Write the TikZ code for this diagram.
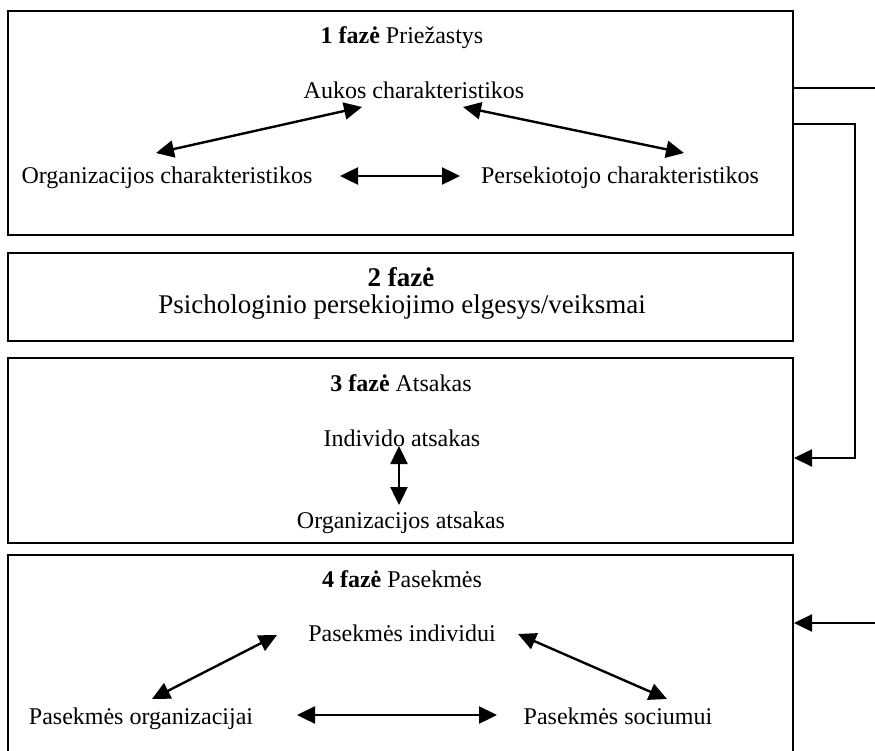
\documentclass[tikz,border=0pt]{standalone}
\usepackage{fontspec}
\setmainfont{Liberation Serif}
\usetikzlibrary{arrows.meta}

\begin{document}
\begin{tikzpicture}[x=.5pt,y=-.5pt,
      phase/.style={draw,line width=1pt,rectangle,minimum width=392.5pt,inner sep=0pt},
      item/.style={font=\fontsize{12}{14}\selectfont,inner sep=1pt,text height=8.5pt,text depth=2.5pt},
      big/.style={font=\fontsize{13.5}{16}\selectfont,inner sep=1pt,text height=9.5pt,text depth=3pt},
      link/.style={{Triangle[length=9pt,width=8.5pt]}-{Triangle[length=9pt,width=8.5pt]},line width=1.2pt},
      feed/.style={-{Triangle[length=9pt,width=8.5pt]},line width=1.1pt},
      wire/.style={line width=1.1pt}]
    \useasboundingbox (0,0) rectangle (875,751);
    \foreach \n/\y/\h in {
      p1/123/224,
      p2/297/88,
      p3/450.5/185,
      p4/662.5/215} {
      \node[phase,minimum height=\h*.5pt] (\n) at (400.5,\y) {};
    }
    \node[item] (t1) at (402,37) {\textbf{1 fazė} Priežastys};
    \node[item] (a1) at (414,92) {Aukos charakteristikos};
    \node[item] (o1) at (167,177) {Organizacijos charakteristikos};
    \node[item] (s1) at (620,177) {Persekiotojo charakteristikos};
    \draw[link] ([shift={(-11,-24)}]o1.center) -- ([shift={(-52,15)}]a1.center);
    \draw[link] ([shift={(49,15)}]a1.center) -- ([shift={(64,-24)}]s1.center);
    \draw[link] ([shift={(173,-1)}]o1.center) -- ([shift={(-160,-1)}]s1.center);

    \node[big] (t2) at (401,280) {\textbf{2 fazė}};
    \node[big] (b2) at (402,307) {Psichologinio persekiojimo elgesys/veiksmai};

    \node[item] (t3) at (401,385) {\textbf{3 fazė} Atsakas};
    \node[item] (i3) at (402,440) {Individo atsakas};
    \node[item] (o3) at (401,522) {Organizacijos atsakas};
    \draw[link] ([shift={(-3,6)}]i3.center) -- ([shift={(-2,-17)}]o3.center);

    \node[item] (t4) at (402,581) {\textbf{4 fazė} Pasekmės};
    \node[item] (i4) at (402,635) {Pasekmės individui};
    \node[item] (o4) at (141,718) {Pasekmės organizacijai};
    \node[item] (s4) at (618,718) {Pasekmės sociumui};
    \draw[link] ([shift={(11,-19)}]o4.center) -- ([shift={(-125,0)}]i4.center);
    \draw[link] ([shift={(116,-1)}]i4.center) -- ([shift={(49,-19)}]s4.center);
    \draw[link] ([shift={(156,-3)}]o4.center) -- ([shift={(-121,-3)}]s4.center);

    \coordinate (e1) at (875,88);
    \coordinate (k1) at (855,124);
    \coordinate (k3) at (855,458);
    \coordinate (e4) at (875,623);
    \draw[wire] (p1.east |- e1) -- (e1);
    \draw[feed] (p1.east |- k1) -- (k1) -- (k3) -- (p3.east |- k3);
    \draw[feed] (e4) -- (p4.east |- e4);
  \end{tikzpicture}
\end{document}
